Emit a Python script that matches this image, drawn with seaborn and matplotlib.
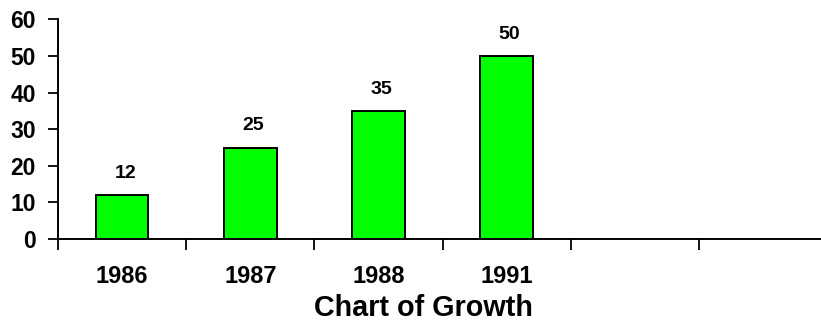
import matplotlib
matplotlib.use("Agg")
import matplotlib.pyplot as plt
import matplotlib.transforms as mtransforms
import seaborn as sns
import pandas as pd
import numpy as np

years = ["1986", "1987", "1988", "1991"]
values = [12, 25, 35, 50]
n_slots = 6
y_ticks = [0, 10, 20, 30, 40, 50, 60]
title = "Chart of Growth"

sns.set_theme(style="white")
plt.rcParams["font.family"] = ["Liberation Sans", "DejaVu Sans"]
plt.rcParams["font.weight"] = "bold"
plt.rcParams["text.color"] = "black"
plt.rcParams["xtick.color"] = "black"
plt.rcParams["ytick.color"] = "black"

df = pd.DataFrame({"year": years, "value": values})

fig = plt.figure(figsize=(8.21, 3.2), dpi=100)
ax = fig.add_axes([58 / 821, 1 - 239 / 320, (827 - 58) / 821, (239 - 19.4) / 320])

sns.barplot(data=df, x="year", y="value", order=years, color="#00FF00",
            width=0.41, edgecolor="black", linewidth=1.4, saturation=1, ax=ax)

ax.set_xlim(-0.5, n_slots - 0.5)
ax.set_ylim(0, 60)
ax.set_xlabel("")
ax.set_ylabel("")

for s in ["top", "right"]:
    ax.spines[s].set_visible(False)
for s in ["left", "bottom"]:
    ax.spines[s].set_color("black")
    ax.spines[s].set_linewidth(1.4)

ax.set_yticks(y_ticks)
ax.set_yticklabels([str(t) for t in y_ticks], fontsize=16.5, fontweight="bold",
                   color="black")
ax.tick_params(axis="y", direction="out", length=7, width=1.3, color="black",
               labelcolor="black", pad=9, left=True)

ax.set_xticks(range(len(years)))
ax.set_xticklabels(years, fontsize=17, fontweight="bold", color="black")
ax.tick_params(axis="x", which="major", length=0, pad=19, labelcolor="black")
ax.set_xticks(np.arange(-0.5, n_slots - 0.5, 1.0), minor=True)
ax.tick_params(axis="x", which="minor", direction="out", length=8, width=1.3,
               color="black", bottom=True)

for i, v in enumerate(values):
    off = mtransforms.offset_copy(ax.transData, fig=fig, x=3, y=17, units="dots")
    ax.text(i, v, str(v), transform=off, ha="center", va="baseline",
            fontsize=14, fontweight="bold", color="black")

fig.text(423.5 / 821, 4 / 320, title, ha="center", va="baseline",
         fontsize=20.7, fontweight="bold", color="black")

fig.savefig("out.png", dpi=100)
